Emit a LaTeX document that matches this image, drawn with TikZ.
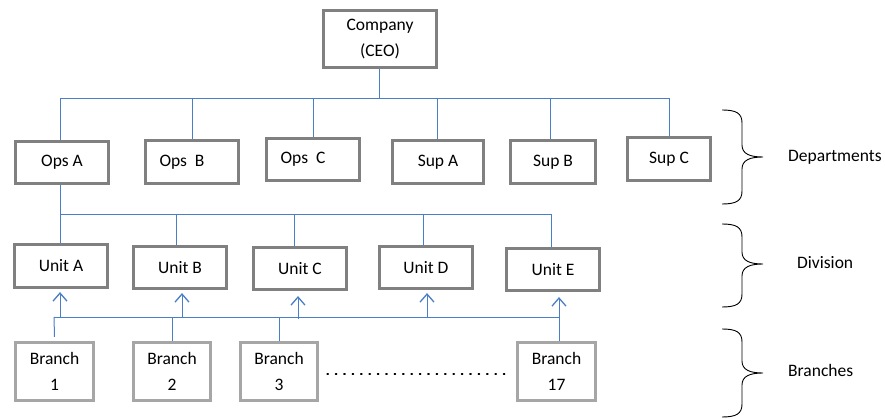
\documentclass[tikz,border=0pt]{standalone}
\usepackage{fontspec}
\setmainfont{Carlito}
\usetikzlibrary{arrows.meta}
\definecolor{boxgray}{HTML}{808080}
\definecolor{brgray}{HTML}{A6A6A6}
\definecolor{linkblue}{HTML}{4A7EC6}
\newcommand{\OrgBrace}[3]{%
  \draw[bracestyle] (722,#1) .. controls (736,#1) and (742,#1+3) .. (742,#1+13)
    -- (742,#2-12) .. controls (742,#2-3) and (750,#2) .. (763,#2)
    .. controls (750,#2) and (742,#2+3) .. (742,#2+12)
    -- (742,#3-13) .. controls (742,#3-3) and (736,#3) .. (722,#3);}
\begin{document}
\begin{tikzpicture}[x=1pt,y=-1pt,
  every node/.style={font=\fontsize{17.5}{26}\selectfont},
  box/.style={draw=boxgray, line width=3.2pt, fill=white, align=center, inner sep=0pt},
  brbox/.style={draw=brgray, line width=3.2pt, fill=white, align=center, inner sep=0pt,
     minimum height=58pt},
  link/.style={draw=linkblue, line width=1pt},
  arr/.style={link, -{Straight Barb[length=8pt,width=14pt,line width=1.3pt]}},
  bracestyle/.style={draw=black, line width=0.9pt},
  lbl/.style={anchor=west, inner sep=0pt}]
\useasboundingbox (0,0) rectangle (885,419);

% top
\node[box, minimum width=113pt, minimum height=57pt] (ceo) at (380,39) {Company\\(CEO)};

% departments
\node[box, minimum width=93pt, minimum height=42pt] (opsA) at (62,162.5) {Ops A};
\node[box, minimum width=93pt, minimum height=43pt] (opsB) at (192,162) {Ops\ \ B\hspace{20pt}};
\node[box, minimum width=93pt, minimum height=42pt] (opsC) at (313,159.5) {Ops\ \ C\hspace{20pt}};
\node[box, minimum width=91pt, minimum height=43pt] (supA) at (438,162) {Sup A};
\node[box, minimum width=85pt, minimum height=43pt] (supB) at (553,162) {Sup B};
\node[box, minimum width=83pt, minimum height=43pt] (supC) at (669,159) {Sup C};

% units
\node[box, minimum width=93pt, minimum height=43pt] (unitA) at (61,266) {Unit A};
\node[box, minimum width=93pt, minimum height=42pt] (unitB) at (180,267.5) {Unit B};
\node[box, minimum width=93pt, minimum height=42pt] (unitC) at (300,268.5) {Unit C};
\node[box, minimum width=93pt, minimum height=42pt] (unitD) at (426,267.5) {Unit D};
\node[box, minimum width=93pt, minimum height=42pt] (unitE) at (553,269.5) {Unit E};

% branches
\node[brbox, minimum width=78pt] (br1) at (54.5,371.5) {Branch\\1};
\node[brbox, minimum width=77pt] (br2) at (172,371.5) {Branch\\2};
\node[brbox, minimum width=77pt] (br3) at (279,371.5) {Branch\\3};
\node[brbox, minimum width=78pt] (br17) at (556.5,371.5) {Branch\\17};

% ceo bus
\coordinate (busA) at (379,99);
\draw[link] (ceo.south -| busA) -- (busA);
\draw[link] ([xshift=-2pt]opsA.north) |- (busA);
\draw[link] (busA) -| (supC.north);
\draw[link] (opsB.north) -- (opsB.north |- busA);
\draw[link] (opsC.north) -- (opsC.north |- busA);
\draw[link] ([xshift=-1pt]supA.north) -- ([xshift=-1pt]supA.north |- busA);
\draw[link] ([xshift=-3pt]supB.north) -- ([xshift=-3pt]supB.north |- busA);

% ops A bus
\coordinate (busB) at (60,215);
\draw[link] ([xshift=-2pt]opsA.south) -- (busB);
\draw[link] (busB) -- ([xshift=-1pt]unitA.north);
\draw[link] (busB) -| ([xshift=-2pt]unitE.north);
\draw[link] ([xshift=-4pt]unitB.north) -- ([xshift=-4pt]unitB.north |- busB);
\draw[link] ([xshift=-6pt]unitC.north) -- ([xshift=-6pt]unitC.north |- busB);
\draw[link] ([xshift=-3pt]unitD.north) -- ([xshift=-3pt]unitD.north |- busB);

% branch bus
\coordinate (busC) at (54,317);
\draw[link] ([yshift=4pt]br1.north) -- (busC);
\draw[link] (busC) -- (559,317);
\draw[link] (br2.north) -- (br2.north |- busC);
\draw[link] (br3.north) -- (br3.north |- busC);
\draw[arr] ([xshift=-1pt]unitA.south |- busC) -- ([xshift=-1pt,yshift=-3pt]unitA.south);
\draw[arr] ([xshift=2pt]unitB.south |- busC) -- ([xshift=2pt,yshift=-3pt]unitB.south);
\draw[arr] ([xshift=-2pt,yshift=-2pt]unitC.south |- busC) -- ([xshift=-2pt,yshift=-5pt]unitC.south);
\draw[arr] ([xshift=1pt]unitD.south |- busC) -- ([xshift=1pt,yshift=-3pt]unitD.south);
\draw[arr] ([xshift=2.5pt]br17.north) -- ([xshift=2.5pt,yshift=-5pt]br17.north |- unitE.south);

% dotted
\draw[line width=1.4pt, dash pattern=on 1.2pt off 7.2pt, line cap=round]
  ([xshift=8pt,yshift=-2.5pt]br3.east) -- ([xshift=-8pt,yshift=-2.5pt]br17.west);

% braces
\OrgBrace{110}{157}{204}
\OrgBrace{224}{264}{307}
\OrgBrace{329}{373}{417}

\node[lbl] (ldep) at (788,157) {Departments};
\node[lbl] (ldiv) at (797,263) {Division};
\node[lbl] (lbr) at (788,370) {Branches};
\end{tikzpicture}
\end{document}
